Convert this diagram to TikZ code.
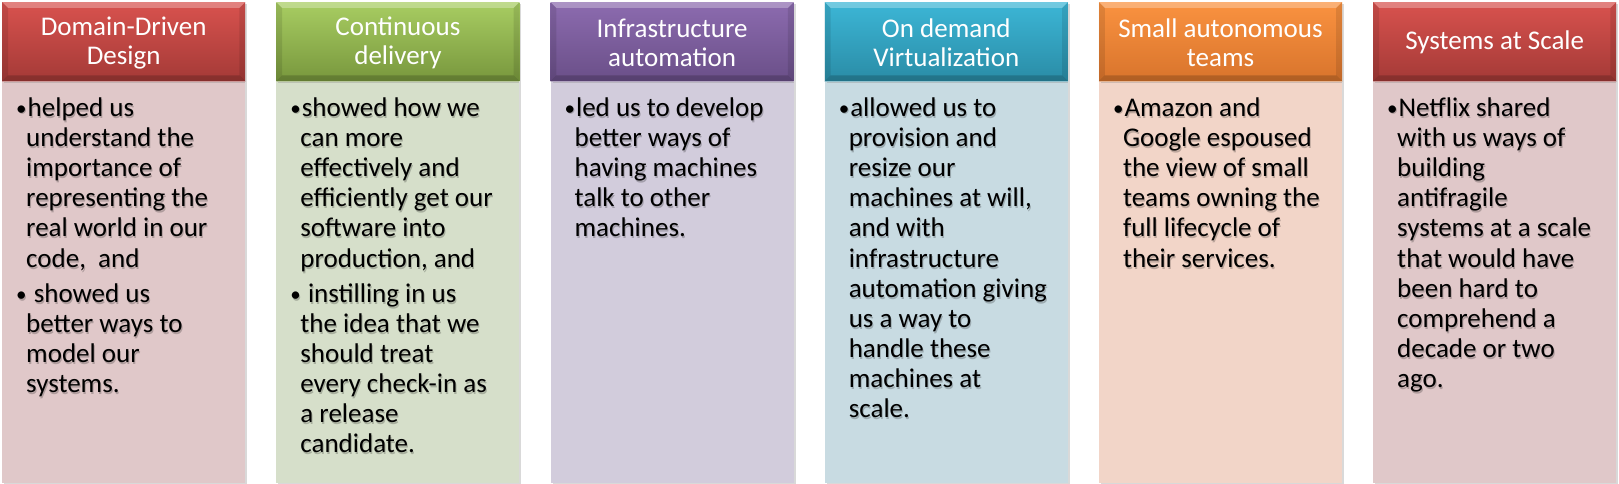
\documentclass[tikz,border=0pt]{standalone}
\usepackage{fontspec}
\setmainfont{Carlito}
\usetikzlibrary{shadows}
\definecolor{redT}{HTML}{D8524E}\definecolor{redB}{HTML}{A43A37}
\definecolor{grnT}{HTML}{A8CD62}\definecolor{grnB}{HTML}{78973D}
\definecolor{purT}{HTML}{8C6BAF}\definecolor{purB}{HTML}{6A4F88}
\definecolor{aquT}{HTML}{3CB6D6}\definecolor{aquB}{HTML}{2A8CA6}
\definecolor{oraT}{HTML}{FA9240}\definecolor{oraB}{HTML}{D8742C}
\definecolor{redL}{HTML}{E0C8C9}
\definecolor{grnL}{HTML}{D6DFCA}
\definecolor{purL}{HTML}{D2CCDC}
\definecolor{aquL}{HTML}{C8DBE2}
\definecolor{oraL}{HTML}{F2D5C8}
\newcommand\bul{\makebox[12.5pt][l]{\hspace*{1pt}\raisebox{1.2pt}{\fontsize{21}{21}\selectfont•}}}
\newcommand\ind{\hspace*{11pt}}
\tikzset{
  hdrbox/.style={anchor=north west, minimum width=243pt, minimum height=79pt,
    inner sep=0pt, align=center,
    drop shadow={shadow xshift=2pt, shadow yshift=-2pt, opacity=0.3}},
  hdrtext/.style={inner sep=0pt, text=white, align=center,
    font=\fontsize{27}{29}\selectfont},
  bodybox/.style={anchor=north west, minimum width=243pt, minimum height=402pt,
    inner sep=0pt, drop shadow={shadow xshift=2pt, shadow yshift=-1.5pt, opacity=0.3}},
  bodytext/.style={anchor=base west, inner sep=0pt, text=black,
    font=\fontsize{27}{30}\selectfont, align=left},
  bodyshade/.style={bodytext, text=black, opacity=0.22},
}
\newcommand\mkcol[7]{%
  % #1 name, #2 left x, #3 top col, #4 bottom col, #5 body col, #6 header, #7 body
  \node[bodybox, fill=#5] (b#1) at (#2,-81) {};
  \node[hdrbox, top color=#3, bottom color=#4] (h#1) at (#2,-2) {};
  \fill[white, opacity=0.28] (h#1.north west) -- (h#1.north east)
     -- ([shift={(-6,-6)}]h#1.north east) -- ([shift={(6,-6)}]h#1.north west) -- cycle;
  \fill[black, opacity=0.10] (h#1.north west) -- ([shift={(6,-6)}]h#1.north west)
     -- ([shift={(6,6)}]h#1.south west) -- (h#1.south west) -- cycle;
  \fill[black, opacity=0.10] (h#1.north east) -- ([shift={(-6,-6)}]h#1.north east)
     -- ([shift={(-6,6)}]h#1.south east) -- (h#1.south east) -- cycle;
  \fill[black, opacity=0.18] (h#1.south west) -- ([shift={(6,6)}]h#1.south west)
     -- ([shift={(-6,6)}]h#1.south east) -- (h#1.south east) -- cycle;
  \node[hdrtext] (l#1) at ([yshift=-1pt]h#1.center) {#6};
  \draw[white, opacity=0.5, line width=1pt] ([yshift=-0.5pt]b#1.north west) -- ([yshift=-0.5pt]b#1.north east);
  \node[bodyshade] (s#1) at ([xshift=14pt]b#1.west |- 1.2,-118.2) {\parbox[t]{230pt}{\raggedright #7}};
  \node[bodytext] (t#1) at ([xshift=13pt]b#1.west |- 0,-117) {\parbox[t]{230pt}{\raggedright #7}};
}
\begin{document}
\begin{tikzpicture}[x=1pt,y=1pt]
\useasboundingbox (0,0) rectangle (1619,-484);
\mkcol{1}{2}{redT}{redB}{redL}{Domain-Driven\\Design}{%
\bul helped us\\ \ind understand the\\ \ind importance of\\ \ind representing the\\ \ind real world in our\\[1pt] \ind code,\ \ and\\[5pt] \bul\ showed us\\ \ind better ways to\\ \ind model our\\ \ind systems.}
\mkcol{2}{276.2}{grnT}{grnB}{grnL}{Continuous\\delivery}{%
\bul showed how we\\ \ind can more\\ \ind effectively and\\ \ind efficiently get our\\ \ind software into\\[1pt] \ind production, and\\[5pt] \bul\ instilling in us\\ \ind the idea that we\\ \ind should treat\\ \ind every check-in as\\ \ind a release\\ \ind candidate.}
\mkcol{3}{550.4}{purT}{purB}{purL}{Infrastructure\\automation}{%
\bul led us to develop\\ \ind better ways of\\ \ind having machines\\ \ind talk to other\\ \ind machines.}
\mkcol{4}{824.6}{aquT}{aquB}{aquL}{On demand\\Virtualization}{%
\bul allowed us to\\ \ind provision and\\ \ind resize our\\ \ind machines at will,\\ \ind and with\\[1pt] \ind infrastructure\\ \ind automation giving\\ \ind us a way to\\ \ind handle these\\ \ind machines at\\ \ind scale.}
\mkcol{5}{1098.8}{oraT}{oraB}{oraL}{Small autonomous\\teams}{%
\bul Amazon and\\ \ind Google espoused\\ \ind the view of small\\ \ind teams owning the\\ \ind full lifecycle of\\[1pt] \ind their services.}
\mkcol{6}{1373}{redT}{redB}{redL}{Systems at Scale}{%
\bul Netflix shared\\ \ind with us ways of\\ \ind building\\ \ind antifragile\\ \ind systems at a scale\\[1pt] \ind that would have\\ \ind been hard to\\ \ind comprehend a\\ \ind decade or two\\ \ind ago.}
\end{tikzpicture}
\end{document}
